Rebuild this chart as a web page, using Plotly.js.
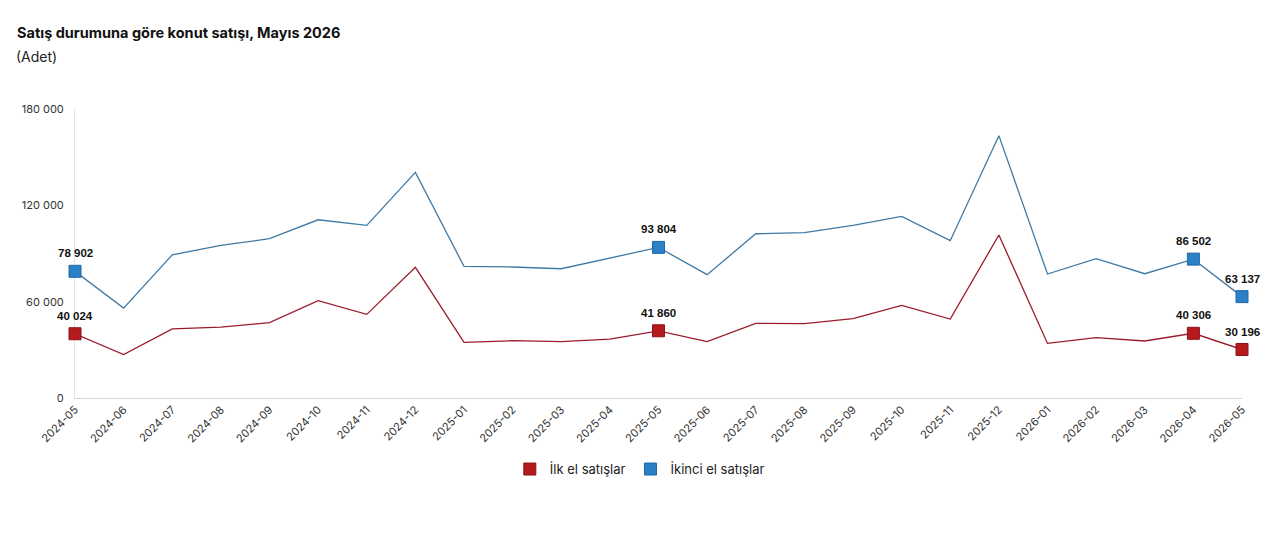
<!DOCTYPE html>
<html>
<head>
<meta charset="utf-8">
<script src="https://cdn.plot.ly/plotly-3.0.1.min.js"></script>
<style>
html,body{margin:0;padding:0;background:#fff;}
#chart{width:1280px;height:533px;}
</style>
</head>
<body>
<div id="chart"></div>
<script>
const months = ["2024-05","2024-06","2024-07","2024-08","2024-09","2024-10","2024-11","2024-12",
  "2025-01","2025-02","2025-03","2025-04","2025-05","2025-06","2025-07","2025-08","2025-09",
  "2025-10","2025-11","2025-12","2026-01","2026-02","2026-03","2026-04","2026-05"];
const ilkEl = [40024,27000,43000,44200,46900,60600,52100,81400,
  34600,35700,35100,36700,41860,35100,46500,46300,49400,
  57700,49200,101500,34000,37600,35500,40306,30196];
const ikinciEl = [78902,56000,89200,95000,99200,111000,107500,140500,
  82000,81600,80500,87200,93804,76800,102300,103000,107500,
  113100,98000,163400,77200,86800,77400,86502,63137];
const highlighted = ["2024-05","2025-05","2026-04","2026-05"];
const yTicks = [0,60000,120000,180000];
const names = ["İlk el satışlar","İkinci el satışlar"];

function pick(vals){ return highlighted.map(m => vals[months.indexOf(m)]); }
function fmt(v){ return String(v).replace(/\B(?=(\d{3})+(?!\d))/g, " "); }

const redLine = "#9a1c2b", redMark = "#b51a1e";
const blueLine = "#3f7aa6", blueMark = "#2b80c6";

const traces = [
  {x: months, y: ilkEl, mode: "lines", line: {color: redLine, width: 1.3}, showlegend: false, hoverinfo: "skip", cliponaxis: false},
  {x: months, y: ikinciEl, mode: "lines", line: {color: blueLine, width: 1.3}, showlegend: false, hoverinfo: "skip", cliponaxis: false},
  {x: highlighted, y: pick(ilkEl), mode: "markers", name: names[0], cliponaxis: false,
   marker: {symbol: "square", size: 12, color: redMark, line: {color: "#8e1216", width: 1}}},
  {x: highlighted, y: pick(ikinciEl), mode: "markers", name: names[1], cliponaxis: false,
   marker: {symbol: "square", size: 12, color: blueMark, line: {color: "#1f6aa8", width: 1}}}
];

const labelAnns = [];
[ilkEl, ikinciEl].forEach(series => {
  highlighted.forEach(m => {
    const v = series[months.indexOf(m)];
    labelAnns.push({x: m, y: v, xref: "x", yref: "y", text: "<b>" + fmt(v) + "</b>", showarrow: false,
      yshift: 18, xanchor: "center", yanchor: "middle",
      font: {family: "Liberation Sans, Arial, sans-serif", size: 11.5, color: "#111"}});
  });
});

const layout = {
  width: 1280, height: 533,
  margin: {l: 75, r: 38, t: 109, b: 135},
  paper_bgcolor: "#fff", plot_bgcolor: "#fff",
  separators: ", ",
  font: {family: "Inter, Roboto, sans-serif", color: "#333", size: 11},
  title: {text: "<b>Satış durumuna göre konut satışı, Mayıs 2026</b>", x: 17/1280, xref: "container", xanchor: "left",
    y: 1 - 33/533, yref: "container", yanchor: "middle",
    font: {family: "Inter, sans-serif", size: 14.5, color: "#111"}},
  annotations: [{text: "(Adet)", xref: "paper", yref: "paper", x: (14-75)/1167, y: (398-57)/289, xanchor: "left", yanchor: "middle",
    showarrow: false, font: {family: "Inter, sans-serif", size: 14, color: "#222"}}].concat(labelAnns),
  xaxis: {type: "category", tickangle: -45, showgrid: false, zeroline: false, layer: "below traces",
    showline: true, linecolor: "#d5d5d5", linewidth: 1, ticks: "", range: [0, 24],
    tickfont: {size: 11, color: "#333"}},
  yaxis: {range: [0, 180000], tickvals: yTicks, tickformat: ",d", showgrid: false, zeroline: false, layer: "below traces",
    showline: true, linecolor: "#e3e3e3", linewidth: 1, ticks: "", ticklabelstandoff: 8,
    tickfont: {size: 11, color: "#333"}},
  legend: {orientation: "h", x: 0.484, xanchor: "center", y: -0.246, yanchor: "middle",
    font: {family: "Inter, sans-serif", size: 13, color: "#222"}, itemwidth: 30}
};

Plotly.newPlot("chart", traces, layout, {displayModeBar: false, responsive: false});
</script>
</body>
</html>
